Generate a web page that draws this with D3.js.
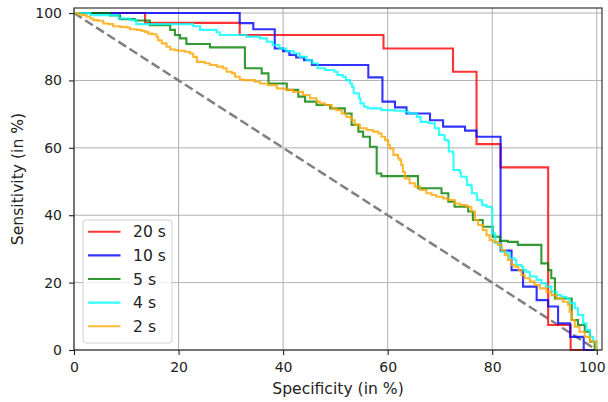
<!DOCTYPE html>
<html>
<head>
<meta charset="utf-8">
<script src="https://cdn.jsdelivr.net/npm/d3@7"></script>
<style>
  body { margin: 0; background: #fff; }
  svg { font-family: "DejaVu Sans", sans-serif; }
</style>
</head>
<body>
<svg id="chart" width="608" height="402"></svg>
<script>
// ROC points as [specificity, sensitivity] in %, drawn as steps (horizontal then drop)
const roc20 = [[0,100],[13.6,97.1],[31.7,93.5],[59.2,89.5],[72.5,82.6],[77.0,61.1],[81.6,54.2],[90.7,7.4],[95.0,0],[100,0]];
const roc10 = [[0,100],[31.7,97.0],[34.3,95.2],[38.4,89.5],[40.0,88.7],[41.2,87.6],[42.5,86.8],[44.0,86.0],[45.5,84.6],[56.3,80.9],[59.0,73.7],[61.4,72.0],[63.6,70.2],[68.1,68.2],[70.6,66.3],[74.8,65.1],[77.0,63.3],[81.6,29.5],[83.7,23.7],[85.9,18.8],[88.5,14.8],[90.7,12.9],[92.6,7.9],[94.9,3.9],[97.5,0],[100,0]];
const roc5 = [[0,100],[6.9,99.3],[8.8,98.2],[11.7,97.8],[14.5,96.4],[18.4,95.0],[19.3,93.5],[20.3,92.5],[21.5,90.8],[26.0,89.8],[32.7,83.6],[35.9,82.1],[37.2,79.1],[40.7,77.2],[42.9,75.2],[44.2,73.7],[46.4,72.7],[49.0,71.7],[51.8,70.2],[53.1,66.8],[54.4,64.8],[55.3,63.3],[56.6,60.3],[57.9,52.4],[58.8,51.6],[65.8,48.0],[70.3,46.5],[71.6,44.0],[72.8,42.5],[75.4,41.1],[76.3,38.6],[78.2,36.6],[80.1,33.6],[81.5,32.4],[83.0,32.1],[84.9,31.2],[89.4,25.7],[90.7,23.7],[91.3,21.3],[92.0,15.3],[95.2,8.9],[96.4,7.4],[97.7,5.4],[98.7,2.5],[99.6,0],[100,0]];
const roc4 = [[0,100],[3.1,99.4],[8.5,98.4],[10.7,97.9],[11.9,96.7],[22.8,96.1],[24.1,95.0],[27.3,94.3],[27.9,93.5],[33.0,93.0],[35.6,92.5],[36.9,91.5],[38.0,90.5],[39.3,89.5],[40.6,88.7],[42.0,88.0],[43.2,87.0],[44.5,86.0],[45.6,85.1],[46.6,83.6],[48.0,83.1],[49.8,82.6],[50.4,81.6],[51.4,81.1],[52.0,80.1],[52.8,79.1],[53.2,78.1],[53.5,76.2],[54.5,74.7],[54.8,73.2],[55.5,72.2],[56.2,71.7],[58.8,71.2],[61.4,71.0],[63.3,70.7],[64.0,70.2],[65.6,69.2],[66.3,67.7],[67.8,67.3],[69.0,65.8],[69.8,63.8],[70.9,62.3],[71.6,61.8],[71.7,58.9],[72.5,58.3],[72.6,53.4],[73.8,52.9],[74.0,51.4],[75.1,50.5],[75.2,49.0],[76.0,48.5],[76.1,46.5],[77.0,46.0],[77.1,44.5],[78.0,44.0],[78.1,43.0],[78.9,42.5],[79.9,42.0],[80.0,34.6],[80.5,34.1],[80.6,31.7],[81.5,30.2],[81.8,29.2],[82.7,28.7],[83.4,27.2],[84.3,26.7],[84.6,25.2],[85.6,24.7],[85.9,23.7],[86.5,23.2],[87.2,21.8],[88.5,20.8],[89.4,19.8],[90.3,18.8],[91.3,17.3],[92.3,16.3],[93.2,15.8],[94.2,15.3],[94.8,13.9],[95.8,12.4],[96.4,10.4],[97.4,7.9],[98.0,5.9],[98.7,3.9],[99.3,2.5],[99.9,0.5],[100,0]];
const roc2 = [[0,100],[0.8,99.6],[1.5,99.4],[2.4,98.9],[3.1,98.4],[3.7,97.9],[4.6,97.7],[5.6,96.9],[6.6,96.7],[7.5,96.1],[8.8,95.9],[10.1,95.7],[10.7,95.2],[12.0,95.0],[12.9,94.7],[13.6,94.4],[14.2,93.9],[14.9,93.7],[15.8,92.9],[16.1,91.9],[16.8,91.0],[17.7,90.0],[18.4,89.2],[19.3,89.0],[19.9,88.8],[21.2,88.5],[22.2,88.0],[22.8,87.0],[23.5,85.5],[25.0,85.1],[26.0,84.6],[27.3,84.1],[28.5,83.6],[29.2,82.6],[30.2,82.1],[30.8,81.1],[31.7,80.3],[32.4,80.1],[34.6,79.6],[35.6,79.1],[37.1,78.6],[38.8,77.6],[40.6,77.2],[41.9,76.6],[43.8,75.7],[45.1,74.7],[46.4,73.7],[47.0,73.2],[48.0,72.7],[49.3,71.7],[50.2,71.2],[51.2,70.2],[52.1,69.2],[53.1,68.2],[53.7,66.8],[54.7,65.8],[56.0,65.3],[57.2,64.8],[58.2,64.3],[58.8,63.3],[59.5,62.3],[60.1,60.8],[60.4,59.8],[61.1,57.9],[62.0,56.9],[62.3,56.4],[62.6,54.9],[62.9,52.9],[63.3,50.9],[64.2,49.5],[65.2,48.5],[66.2,47.5],[67.4,46.5],[68.4,46.0],[69.3,45.5],[70.6,45.0],[71.6,44.5],[72.8,43.5],[73.8,43.0],[75.1,42.5],[76.0,41.1],[76.7,38.6],[77.3,37.1],[78.2,35.6],[78.9,34.1],[79.5,32.6],[80.2,32.1],[81.1,31.2],[81.8,29.7],[82.4,28.2],[83.0,26.7],[83.7,25.2],[84.3,24.7],[85.0,23.7],[85.6,22.3],[86.2,21.3],[87.2,20.3],[88.1,19.3],[89.1,18.3],[90.4,17.3],[91.3,16.3],[92.3,15.3],[93.5,14.3],[94.5,13.4],[94.8,11.4],[95.2,8.9],[95.8,6.9],[96.7,5.4],[97.7,3.9],[98.7,2.5],[99.9,0],[100,0]];

const labels = ["20 s", "10 s", "5 s", "4 s", "2 s"];
const colors = ["red", "blue", "green", "cyan", "orange"];
const seriesData = [roc20, roc10, roc5, roc4, roc2];
const ticks = [0, 20, 40, 60, 80, 100];

const svg = d3.select("#chart");
const mLeft = 74, mRight = 602, mTop = 8, mBottom = 350;
const tickFont = 14, labelFont = 15.6;

const x = d3.scaleLinear().domain([0, 101]).range([mLeft, mRight]);
const y = d3.scaleLinear().domain([0, 101.5]).range([mBottom, mTop]);

// grid
const grid = svg.append("g").attr("stroke", "#b0b0b0").attr("stroke-width", 1);
ticks.forEach(t => {
  grid.append("line").attr("x1", x(t)).attr("x2", x(t)).attr("y1", mTop).attr("y2", mBottom);
  grid.append("line").attr("x1", mLeft).attr("x2", mRight).attr("y1", y(t)).attr("y2", y(t));
});

// chance diagonal
svg.append("line")
  .attr("x1", x(0)).attr("y1", y(100)).attr("x2", x(100)).attr("y2", y(0))
  .attr("stroke", "gray").attr("stroke-width", 2.5)
  .attr("stroke-dasharray", "9.2,4");

const line = d3.line().x(d => x(d[0])).y(d => y(d[1])).curve(d3.curveStepAfter);

seriesData.forEach((s, i) => {
  svg.append("path")
    .datum(s)
    .attr("d", line)
    .attr("fill", "none")
    .attr("stroke", colors[i])
    .attr("stroke-opacity", 0.8)
    .attr("stroke-width", 2.1);
});

// axes
const xAxis = svg.append("g").attr("transform", `translate(0,${mBottom})`)
  .call(d3.axisBottom(x).tickValues(ticks).tickSize(5).tickPadding(7));
const yAxis = svg.append("g").attr("transform", `translate(${mLeft},0)`)
  .call(d3.axisLeft(y).tickValues(ticks).tickSize(5).tickPadding(7));
[xAxis, yAxis].forEach(a => {
  a.select(".domain").remove();
  a.selectAll("text").attr("font-size", tickFont).attr("font-family", "DejaVu Sans").attr("fill", "#222");
  a.selectAll("line").attr("stroke", "#222").attr("stroke-width", 1.1);
});
// keep the last x label inside the picture, as the reference does
xAxis.selectAll("text").filter(d => d === 100).attr("text-anchor", "end").attr("dx", "0.6em");

// frame
svg.append("rect")
  .attr("x", mLeft).attr("y", mTop).attr("width", mRight - mLeft).attr("height", mBottom - mTop)
  .attr("fill", "none").attr("stroke", "#222").attr("stroke-width", 1.1);

svg.append("text")
  .attr("x", (mLeft + mRight) / 2).attr("y", 394)
  .attr("text-anchor", "middle").attr("font-size", labelFont).attr("fill", "#222")
  .text("Specificity (in %)");
svg.append("text")
  .attr("transform", `translate(23,${(mTop + mBottom) / 2}) rotate(-90)`)
  .attr("text-anchor", "middle").attr("font-size", labelFont).attr("fill", "#222")
  .text("Sensitivity (in %)");

// legend
const leg = svg.append("g");
leg.append("rect")
  .attr("x", 83).attr("y", 220).attr("width", 89).attr("height", 123)
  .attr("rx", 3).attr("fill", "#fff").attr("fill-opacity", 0.8)
  .attr("stroke", "#d0d0d0").attr("stroke-width", 1);
labels.forEach((lab, i) => {
  const ly = 231.7 + i * 23.65;
  leg.append("line")
    .attr("x1", 88).attr("x2", 120.5).attr("y1", ly).attr("y2", ly)
    .attr("stroke", colors[i]).attr("stroke-opacity", 0.8).attr("stroke-width", 2.1);
  leg.append("text")
    .attr("x", 133).attr("y", ly).attr("dy", "0.36em")
    .attr("font-size", labelFont).attr("fill", "#222")
    .text(lab);
});
</script>
</body>
</html>
